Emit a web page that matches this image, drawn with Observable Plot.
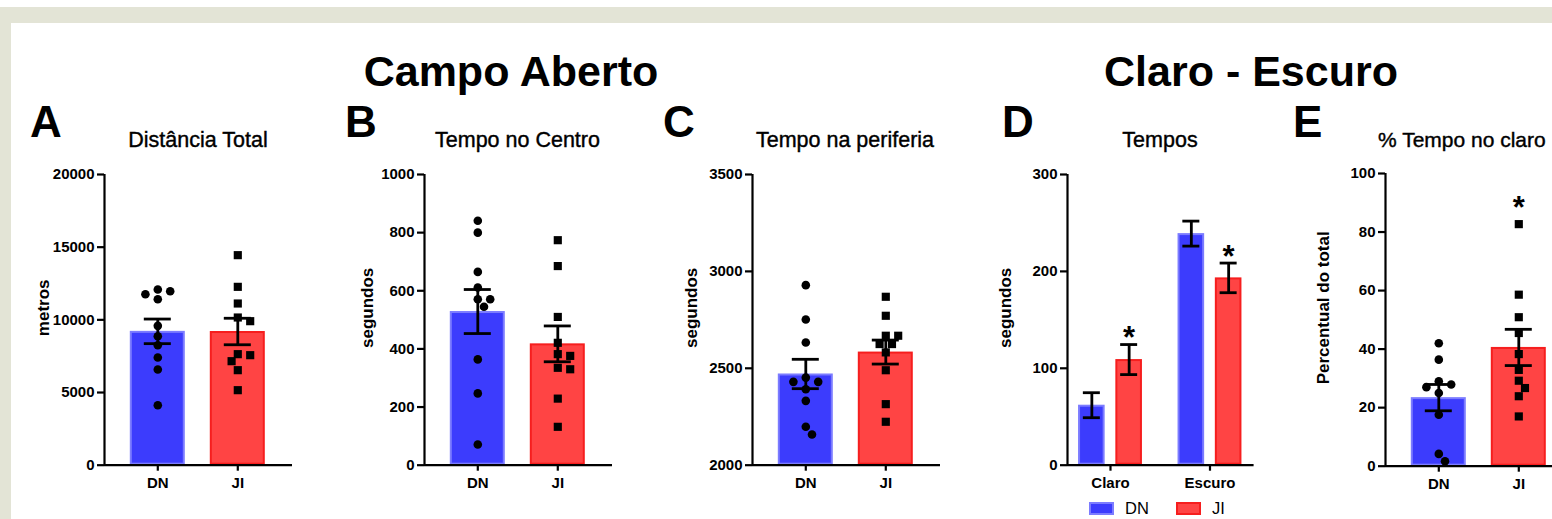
<!DOCTYPE html>
<html>
<head>
<meta charset="utf-8">
<script src="https://cdn.jsdelivr.net/npm/d3@7"></script>
<script src="https://cdn.jsdelivr.net/npm/@observablehq/plot@0.6"></script>
<style>
  html, body { margin: 0; padding: 0; background: #ffffff; }
  #page { position: relative; width: 1552px; height: 519px; overflow: hidden; background: #ffffff;
          font-family: "Liberation Sans", Arial, sans-serif; }
  .band { position: absolute; background: #e3e4d6; }
  .panel { position: absolute; }
  .panel svg { max-width: none !important; display: block; }
  .legend-item { position: absolute; font-size: 16.5px; color: #000; line-height: 1; }
  .swatch { position: absolute; box-sizing: border-box; }
</style>
</head>
<body>
<div id="page">
  <div class="band" style="left:0;top:7px;width:1552px;height:16px;"></div>
  <div class="band" style="left:0;top:7px;width:11px;height:512px;"></div>
</div>
<script>
// ---------------- DATA ----------------
const groups = ["DN", "JI"];

// A - Distância Total (metros)
const distanciaDN = [12087, 11972, 11766, 11422, 9587, 8876, 8257, 7408, 6582, 4128];
const distanciaJI = [14450, 12271, 11124, 10161, 9908, 7638, 7569, 7156, 6537, 5161];

// B - Tempo no Centro (segundos)
const centroDN = [841, 800, 665, 611, 571, 571, 545, 364, 247, 71];
const centroJI = [774, 685, 510, 421, 382, 376, 335, 330, 229, 132];

// C - Tempo na periferia (segundos)
const periferiaDN = [2929, 2752, 2633, 2452, 2430, 2430, 2392, 2332, 2198, 2158];
const periferiaJI = [2869, 2771, 2668, 2668, 2625, 2625, 2582, 2490, 2315, 2224];

// D - Tempos (segundos), média ± EPM
const ambientes = ["Claro", "Escuro"];
const temposDN = [61.9, 239.0];
const temposDNsem = [12.9, 12.9];
const temposJI = [109.0, 193.3];
const temposJIsem = [15.5, 15.3];
const temposJIsig = ["*", "*"];

// E - % Tempo no claro
const claroDN = [42.0, 36.4, 29.0, 27.9, 27.0, 25.0, 17.6, 4.2, 1.7];
const claroJI = [82.7, 58.6, 50.9, 45.5, 38.3, 32.9, 29.2, 26.7, 23.9, 17.0];
const claroSig = ["", "*"];

// axis ticks
const ticksA = [0, 5000, 10000, 15000, 20000];
const ticksB = [0, 200, 400, 600, 800, 1000];
const ticksC = [2000, 2500, 3000, 3500];
const ticksD = [0, 100, 200, 300];
const ticksE = [0, 20, 40, 60, 80, 100];

// ---------------- STYLE ----------------
const FONT = '"Liberation Sans", Arial, sans-serif';
const BLUE = "#3c3cfd", BLUE_EDGE = "#7c7cff";
const RED = "#ff4444", RED_EDGE = "#f61e1e";
const AXW = 2.2, ERRW = 2.8;
const page = document.getElementById("page");

function statsOf(vals) {
  const m = d3.mean(vals);
  const s = d3.deviation(vals) / Math.sqrt(vals.length);
  return { mean: m, lo: m - s, hi: m + s };
}

// simple swarm layout (pixel space)
function dodge(vals, pxPerUnit, minDist, stepPx) {
  const placed = [];
  const order = vals.map((v, i) => ({ v, i })).sort((a, b) => b.v - a.v);
  const out = new Array(vals.length).fill(0);
  for (const { v, i } of order) {
    const py = v * pxPerUnit;
    let dx = 0;
    for (let k = 0; k < 80; k++) {
      const cand = (k % 2 ? 1 : -1) * Math.ceil(k / 2) * stepPx;
      if (placed.every(p => (p.dx - cand) ** 2 + (p.py - py) ** 2 >= minDist * minDist)) { dx = cand; break; }
    }
    placed.push({ dx, py });
    out[i] = dx;
  }
  return out;
}

function place(svg, left, top) {
  const wrap = document.createElement("div");
  wrap.className = "panel";
  wrap.style.left = left + "px";
  wrap.style.top = top + "px";
  svg.style.maxWidth = "none";
  wrap.appendChild(svg);
  page.appendChild(wrap);
}

function scatterPanel(cfg) {
  const { dn, ji, yDomain, yTicks, yLabel, axisX, top, bottom, labelGap, sig, starDy } = cfg;
  const step = 80, lead = 53.3, tail = 54.7, half = 27.5, capHalf = 13.5;
  const plotW = lead + step + tail, plotH = bottom - top;
  const mL = 85, mR = 4, mT = 40, mB = 45;
  const pxPerUnit = plotH / (yDomain[1] - yDomain[0]);
  const u = 1 / step;
  const base = yDomain[0];
  const stats = [dn, ji].map((vals, i) => ({ i, max: d3.max(vals), star: sig ? sig[i] : "", ...statsOf(vals) }));
  const pts = [dn, ji].map((vals, i) => {
    const off = dodge(vals, pxPerUnit, 8.8, 6.2);
    return vals.map((v, j) => ({ x: i + off[j] * u, y: v }));
  });
  const barOpts = (fill, stroke) => ({
    x1: d => d.i - half * u, x2: d => d.i + half * u, y1: () => base, y2: "mean",
    fill, stroke, strokeWidth: 2, inset: 1
  });
  const svg = Plot.plot({
    width: mL + plotW + mR, height: mT + plotH + mB,
    marginLeft: mL, marginRight: mR, marginTop: mT, marginBottom: mB,
    x: { domain: [-lead * u, 1 + tail * u] },
    y: { domain: yDomain },
    style: { fontFamily: FONT, color: "black", background: "transparent", overflow: "visible" },
    marks: [
      Plot.rectY([stats[0]], barOpts(BLUE, BLUE_EDGE)),
      Plot.rectY([stats[1]], barOpts(RED, RED_EDGE)),
      Plot.dot(pts[0], { x: "x", y: "y", r: 4.3, fill: "black", symbol: "circle" }),
      Plot.dot(pts[1], { x: "x", y: "y", r: 4.6, fill: "black", symbol: "square" }),
      Plot.ruleX(stats, { x: "i", y1: "lo", y2: "hi", stroke: "black", strokeWidth: ERRW }),
      Plot.ruleY(stats, { y: "hi", x1: d => d.i - capHalf * u, x2: d => d.i + capHalf * u, stroke: "black", strokeWidth: ERRW }),
      Plot.ruleY(stats, { y: "lo", x1: d => d.i - capHalf * u, x2: d => d.i + capHalf * u, stroke: "black", strokeWidth: ERRW }),
      Plot.text(stats.filter(d => d.star), { x: "i", y: "max", text: "star", fontSize: 31, fontWeight: "bold", dy: starDy, fill: "black" }),
      Plot.ruleX([-lead * u], { stroke: "black", strokeWidth: AXW }),
      Plot.ruleY([base], { stroke: "black", strokeWidth: AXW }),
      Plot.axisY({ ticks: yTicks, tickFormat: d => String(d), tickSize: 7, tickPadding: 3, fontSize: 15, fontWeight: "bold", strokeWidth: AXW, label: null }),
      Plot.axisX({ ticks: [0, 1], tickFormat: i => groups[i], tickSize: 6, tickPadding: 6, fontSize: 15, fontWeight: "bold", strokeWidth: AXW, label: null }),
      Plot.text([yLabel], { frameAnchor: "left", text: d => d, rotate: -90, textAnchor: "middle", dx: -labelGap, dy: -12, fontSize: 17, fontWeight: "bold" })
    ]
  });
  place(svg, axisX - mL, top - mT);
}

function groupedPanel(cfg) {
  const { axisX, top, bottom, labelGap } = cfg;
  const step = 99.5, lead = 43, tail = 44.1, half = 13.3, capHalf = 8.5, off = 18.65;
  const plotW = lead + step + tail, plotH = bottom - top;
  const mL = 85, mR = 4, mT = 40, mB = 45;
  const u = 1 / step;
  const rows = [];
  ambientes.forEach((a, c) => {
    rows.push({ c, s: 0, pos: c - off * u, mean: temposDN[c], lo: temposDN[c] - temposDNsem[c], hi: temposDN[c] + temposDNsem[c], star: "" });
    rows.push({ c, s: 1, pos: c + off * u, mean: temposJI[c], lo: temposJI[c] - temposJIsem[c], hi: temposJI[c] + temposJIsem[c], star: temposJIsig[c] });
  });
  const barOpts = (fill, stroke) => ({
    x1: d => d.pos - half * u, x2: d => d.pos + half * u, y1: () => 0, y2: "mean",
    fill, stroke, strokeWidth: 2, inset: 1
  });
  const svg = Plot.plot({
    width: mL + plotW + mR, height: mT + plotH + mB,
    marginLeft: mL, marginRight: mR, marginTop: mT, marginBottom: mB,
    x: { domain: [-lead * u, 1 + tail * u] },
    y: { domain: [0, 300] },
    style: { fontFamily: FONT, color: "black", background: "transparent", overflow: "visible" },
    marks: [
      Plot.rectY(rows.filter(d => d.s === 0), barOpts(BLUE, BLUE_EDGE)),
      Plot.rectY(rows.filter(d => d.s === 1), barOpts(RED, RED_EDGE)),
      Plot.ruleX(rows, { x: "pos", y1: "lo", y2: "hi", stroke: "black", strokeWidth: ERRW }),
      Plot.ruleY(rows, { y: "hi", x1: d => d.pos - capHalf * u, x2: d => d.pos + capHalf * u, stroke: "black", strokeWidth: ERRW }),
      Plot.ruleY(rows, { y: "lo", x1: d => d.pos - capHalf * u, x2: d => d.pos + capHalf * u, stroke: "black", strokeWidth: ERRW }),
      Plot.text(rows.filter(d => d.star), { x: "pos", y: "hi", text: "star", fontSize: 31, fontWeight: "bold", dy: -6, fill: "black" }),
      Plot.ruleX([-lead * u], { stroke: "black", strokeWidth: AXW }),
      Plot.ruleY([0], { stroke: "black", strokeWidth: AXW }),
      Plot.axisY({ ticks: ticksD, tickFormat: d => String(d), tickSize: 7, tickPadding: 3, fontSize: 15, fontWeight: "bold", strokeWidth: AXW, label: null }),
      Plot.axisX({ ticks: [0, 1], tickFormat: i => ambientes[i], tickSize: 6, tickPadding: 6, fontSize: 15, fontWeight: "bold", strokeWidth: AXW, label: null }),
      Plot.text(["segundos"], { frameAnchor: "left", text: d => d, rotate: -90, textAnchor: "middle", dx: -labelGap, dy: -12, fontSize: 17, fontWeight: "bold" })
    ]
  });
  place(svg, axisX - mL, top - mT);
}

scatterPanel({ dn: distanciaDN, ji: distanciaJI, yDomain: [0, 20000], yTicks: ticksA, yLabel: "metros",
  axisX: 104.3, top: 174.3, bottom: 465, labelGap: 61 });
scatterPanel({ dn: centroDN, ji: centroJI, yDomain: [0, 1000], yTicks: ticksB, yLabel: "segundos",
  axisX: 424.3, top: 174.3, bottom: 465, labelGap: 57 });
scatterPanel({ dn: periferiaDN, ji: periferiaJI, yDomain: [2000, 3500], yTicks: ticksC, yLabel: "segundos",
  axisX: 751.7, top: 174.3, bottom: 465, labelGap: 61 });
groupedPanel({ axisX: 1066.7, top: 174.3, bottom: 465, labelGap: 62 });
scatterPanel({ dn: claroDN, ji: claroJI, yDomain: [0, 100], yTicks: ticksE, yLabel: "Percentual do total",
  axisX: 1385, top: 173, bottom: 465.7, labelGap: 62, sig: claroSig, starDy: -16 });

// ---------------- TITLES (text overlay) ----------------
const overlay = d3.select(page).append("svg")
  .attr("width", 1552).attr("height", 519)
  .style("position", "absolute").style("left", "0px").style("top", "0px")
  .style("pointer-events", "none")
  .style("font-family", FONT);

const titles = [
  { t: "Campo Aberto", x: 511, y: 86, size: 43, weight: "bold", anchor: "middle", sw: 0 },
  { t: "Claro - Escuro", x: 1251, y: 86, size: 43, weight: "bold", anchor: "middle", sw: 0 },
  { t: "A", x: 30, y: 136.5, size: 44, weight: "bold", anchor: "start", sw: 0 },
  { t: "B", x: 345, y: 136.5, size: 44, weight: "bold", anchor: "start", sw: 0 },
  { t: "C", x: 663, y: 136.5, size: 44, weight: "bold", anchor: "start", sw: 0 },
  { t: "D", x: 1002, y: 136.5, size: 44, weight: "bold", anchor: "start", sw: 0 },
  { t: "E", x: 1293, y: 136.5, size: 44, weight: "bold", anchor: "start", sw: 0 },
  { t: "Distância Total", x: 198, y: 146.5, size: 21.5, weight: "normal", anchor: "middle", sw: 0.4 },
  { t: "Tempo no Centro", x: 517.5, y: 146.5, size: 21.5, weight: "normal", anchor: "middle", sw: 0.4 },
  { t: "Tempo na periferia", x: 845, y: 146.5, size: 21.5, weight: "normal", anchor: "middle", sw: 0.4 },
  { t: "Tempos", x: 1160, y: 146.5, size: 21.5, weight: "normal", anchor: "middle", sw: 0.4 },
  { t: "% Tempo no claro", x: 1378, y: 146.5, size: 21, weight: "normal", anchor: "start", sw: 0.4 }
];
overlay.selectAll("text").data(titles).join("text")
  .attr("x", d => d.x).attr("y", d => d.y)
  .attr("text-anchor", d => d.anchor)
  .attr("font-size", d => d.size)
  .attr("font-weight", d => d.weight)
  .attr("fill", "black")
  .attr("stroke", d => d.sw ? "black" : "none")
  .attr("stroke-width", d => d.sw)
  .text(d => d.t);

// ---------------- LEGEND (panel D) ----------------
const legend = [
  { label: groups[0], fill: BLUE, edge: BLUE_EDGE, sx: 1089, tx: 1125 },
  { label: groups[1], fill: RED, edge: RED_EDGE, sx: 1176, tx: 1212 }
];
for (const l of legend) {
  const sw = document.createElement("div");
  sw.className = "swatch";
  Object.assign(sw.style, { left: l.sx + "px", top: "502px", width: "25px", height: "13px",
    background: l.fill, border: "2px solid " + l.edge });
  page.appendChild(sw);
  const tx = document.createElement("div");
  tx.className = "legend-item";
  tx.textContent = l.label;
  Object.assign(tx.style, { left: l.tx + "px", top: "500px" });
  page.appendChild(tx);
}
</script>
</body>
</html>
